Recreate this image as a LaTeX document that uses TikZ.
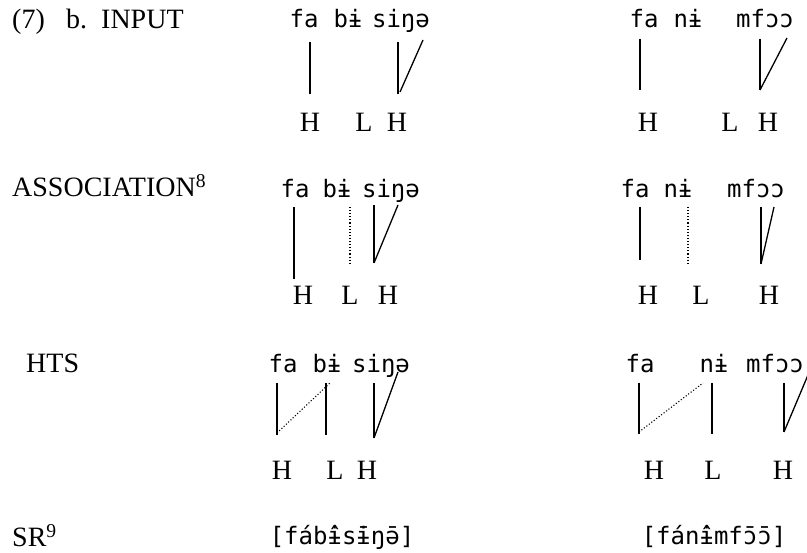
\documentclass[tikz,border=0pt]{standalone}
\usepackage{fontspec}
\setmainfont{Liberation Serif}
\newfontfamily\ipafont{DejaVu Sans Mono}
\newcommand\ipaacc[3]{\ooalign{#1\cr\hidewidth\raisebox{#3}{#2}\hidewidth}}
\begin{document}
\begin{tikzpicture}[x=1pt,y=-1pt,
  lab/.style={inner sep=0pt,anchor=base west,font=\fontsize{28}{30}\selectfont},
  tone/.style={inner sep=0pt,anchor=base,font=\fontsize{28}{30}\selectfont},
  seg/.style={inner sep=0pt,anchor=base,font=\fontsize{24}{26}\ipafont},
  assoc/.style={line width=1.3pt},
  newassoc/.style={line width=1.1pt,dotted}]
\useasboundingbox (0,0) rectangle (807,553);
% left labels
\node[lab] (n7) at (12,29) {(7)};
\node[lab] (nb) at (66,29) {b.};
\node[lab] (input) at (101,29) {INPUT};
\node[lab] (assoc) at (12,197) {ASSOCIATION\textsuperscript{8}};
\node[lab] (hts) at (26,373) {HTS};
\node[lab] (sr) at (12,547) {SR\textsuperscript{9}};
% ---------- row 1 (INPUT)
\node[seg] (a1fa) at (304,28) {fa};
\node[seg] (a1bi) at (348,28) {bɨ};
\node[seg] (a1si) at (401,28) {siŋə};
\node[tone] (a1H1) at (310,132) {H};
\node[tone] (a1L) at (364,132) {L};
\node[tone] (a1H2) at (397,132) {H};
\coordinate (p1) at (310,42); \coordinate (q1) at (310,94);
\coordinate (p2) at (398,42); \coordinate (q2) at (398,94);
\coordinate (p3) at (423,40); \coordinate (q3) at (400,92);
\draw[assoc] (p1) -- (q1);
\draw[assoc] (p2) -- (q2);
\draw[assoc] (p3) -- (q3);
\node[seg] (b1fa) at (644,28) {fa};
\node[seg] (b1ni) at (688,28) {nɨ};
\node[seg] (b1mf) at (765,28) {mfɔɔ};
\node[tone] (b1H1) at (648,132) {H};
\node[tone] (b1L) at (730,132) {L};
\node[tone] (b1H2) at (768,132) {H};
\coordinate (r1) at (640,39); \coordinate (s1) at (640,90);
\coordinate (r2) at (760,39); \coordinate (s2) at (760,90);
\coordinate (r3) at (787,38); \coordinate (s3) at (760,90);
\draw[assoc] (r1) -- (s1);
\draw[assoc] (r2) -- (s2);
\draw[assoc] (r3) -- (s3);
% ---------- row 2 (ASSOCIATION)
\node[seg] (a2fa) at (295,198) {fa};
\node[seg] (a2bi) at (337,198) {bɨ};
\node[seg] (a2si) at (391,198) {siŋə};
\node[tone] (a2H1) at (303,305) {H};
\node[tone] (a2L) at (350,305) {L};
\node[tone] (a2H2) at (388,305) {H};
\coordinate (p4) at (294,207); \coordinate (q4) at (294,279);
\coordinate (p5) at (350,207); \coordinate (q5) at (350,263);
\coordinate (p6) at (374,205); \coordinate (q6) at (374,263);
\coordinate (p7) at (398,205);
\draw[assoc] (p4) -- (q4);
\draw[newassoc] (p5) -- (q5);
\draw[assoc] (p6) -- (q6);
\draw[assoc] (p7) -- (q6);
\node[seg] (b2fa) at (635,198) {fa};
\node[seg] (b2ni) at (678,198) {nɨ};
\node[seg] (b2mf) at (756,198) {mfɔɔ};
\node[tone] (b2H1) at (648,305) {H};
\node[tone] (b2L) at (701,305) {L};
\node[tone] (b2H2) at (769,305) {H};
\coordinate (r4) at (640,207); \coordinate (s4) at (640,260);
\coordinate (r5) at (688,207); \coordinate (s5) at (688,264);
\coordinate (r6) at (761,207); \coordinate (s6) at (761,264);
\coordinate (r7) at (774,207);
\draw[assoc] (r4) -- (s4);
\draw[newassoc] (r5) -- (s5);
\draw[assoc] (r6) -- (s6);
\draw[assoc] (r7) -- (s6);
% ---------- row 3 (HTS)
\node[seg] (a3fa) at (283,373) {fa};
\node[seg] (a3bi) at (327,373) {bɨ};
\node[seg] (a3si) at (381,373) {siŋə};
\node[tone] (a3H1) at (282,480) {H};
\node[tone] (a3L) at (335,480) {L};
\node[tone] (a3H2) at (367,480) {H};
\coordinate (p8) at (277,383); \coordinate (q8) at (277,435);
\coordinate (q8b) at (277,433); \coordinate (p9) at (330,383);
\coordinate (p10) at (326,383); \coordinate (q10) at (326,435);
\coordinate (p11) at (374,383); \coordinate (q11) at (374,438);
\coordinate (p12) at (398,372);
\draw[assoc] (p8) -- (q8);
\draw[newassoc] (q8b) -- (p9);
\draw[assoc] (p10) -- (q10);
\draw[assoc] (p11) -- (q11);
\draw[assoc] (p12) -- (q11);
\node[seg] (b3fa) at (640,373) {fa};
\node[seg] (b3ni) at (714,373) {nɨ};
\node[seg] (b3mf) at (775,373) {mfɔɔ};
\node[tone] (b3H1) at (654,480) {H};
\node[tone] (b3L) at (713,480) {L};
\node[tone] (b3H2) at (783,480) {H};
\coordinate (r8) at (639,383); \coordinate (s8) at (639,434);
\coordinate (s8b) at (639,432); \coordinate (r9) at (703,383);
\coordinate (r10) at (712,383); \coordinate (s10) at (712,434);
\coordinate (r11) at (784,383); \coordinate (s11) at (784,432);
\coordinate (r12) at (808,375);
\draw[assoc] (r8) -- (s8);
\draw[newassoc] (s8b) -- (r9);
\draw[assoc] (r10) -- (s10);
\draw[assoc] (r11) -- (s11);
\draw[assoc] (r12) -- (s11);
% ---------- SR
\node[seg] (a4sr) at (342,545) {[fáb\ipaacc{ɨ}{ˆ}{1pt}s\ipaacc{ɨ}{ˉ}{1pt}ŋ\ipaacc{ə}{ˉ}{0pt}]};
\node[seg] (b4sr) at (714,545) {[fán\ipaacc{ɨ}{ˆ}{1pt}mf\ipaacc{ɔ}{ˉ}{0pt}\ipaacc{ɔ}{ˉ}{0pt}]};
\end{tikzpicture}
\end{document}
